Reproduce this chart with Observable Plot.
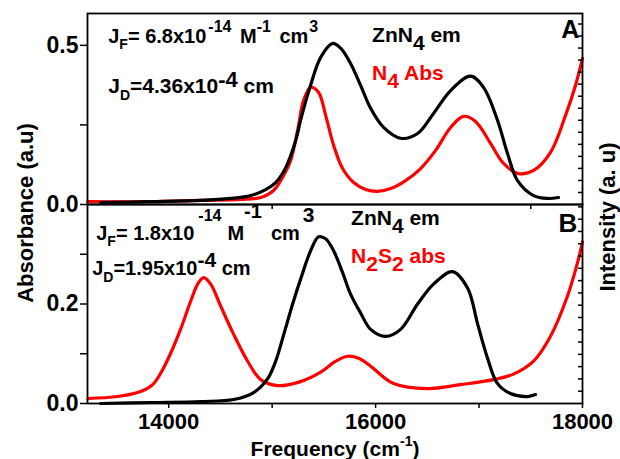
<!DOCTYPE html>
<html><head><meta charset="utf-8">
<script src="https://cdn.jsdelivr.net/npm/d3@7"></script>
<script src="https://cdn.jsdelivr.net/npm/@observablehq/plot@0.6"></script>
<style>
body{margin:0;background:#fff;}
#chart{position:relative;width:620px;height:459px;overflow:hidden;font-family:"Liberation Sans",Arial,sans-serif;}
#chart svg{position:absolute;left:0;overflow:visible;background:transparent;}
</style></head><body><div id="chart"></div>
<script>
// ---------- data ----------
// Panel A: ZnN4 emission (black) and N4 absorption (red)
const emA_freq = [13343,13826,14309,14599,14792,14937,15034,15130,15227,15275,15372,15469,15585,15662,15758,15855,15952,16077,16242,16406,16560,16725,16918,17043,17179,17275,17372,17527,17662,17768];
const emA_val  = [0.006,0.009,0.013,0.019,0.028,0.047,0.069,0.115,0.200,0.265,0.375,0.462,0.506,0.491,0.443,0.374,0.302,0.242,0.208,0.223,0.286,0.358,0.403,0.368,0.264,0.160,0.075,0.028,0.019,0.022];
const absA_freq = [13217,13826,14309,14696,14889,15014,15111,15179,15246,15304,15372,15449,15517,15594,15681,15788,15903,16019,16145,16290,16435,16580,16725,16850,16966,17111,17237,17382,17527,17691,17836,17932,18000];
const absA_val  = [0.009,0.009,0.013,0.016,0.022,0.044,0.091,0.138,0.233,0.327,0.368,0.352,0.280,0.186,0.113,0.069,0.047,0.041,0.050,0.075,0.113,0.170,0.242,0.277,0.261,0.192,0.129,0.097,0.107,0.164,0.280,0.374,0.459];
// Panel B: ZnN4 emission (black) and N2S2 absorption (red)
const emB_freq = [13343,13826,14309,14628,14821,14957,15034,15111,15198,15275,15372,15449,15517,15594,15681,15758,15855,15952,16097,16242,16406,16560,16744,16889,16986,17082,17179,17304,17469,17546];
const emB_val  = [0.000,0.002,0.004,0.008,0.022,0.050,0.085,0.138,0.200,0.250,0.307,0.335,0.331,0.307,0.263,0.220,0.182,0.149,0.135,0.149,0.200,0.240,0.265,0.232,0.160,0.091,0.040,0.020,0.014,0.018];
const absB_freq = [13217,13507,13729,13845,13923,14019,14116,14213,14280,14338,14406,14502,14628,14763,14889,15053,15275,15469,15614,15730,15836,15952,16174,16502,16821,17140,17333,17527,17691,17855,17952,18000];
const absB_val  = [0.010,0.014,0.024,0.038,0.061,0.101,0.150,0.206,0.240,0.253,0.240,0.196,0.139,0.085,0.048,0.036,0.044,0.063,0.085,0.095,0.091,0.075,0.040,0.030,0.038,0.048,0.059,0.085,0.135,0.216,0.283,0.325];

// ---------- axes ----------
const xDomain = [13215, 18000];
const xTickLabels = [14000, 16000, 18000];
const xTickMinor = [15000, 17000];
const xTicksA = [15000, 17500];
const yTicksA = [0, 0.5], yMinorA = [0.25];
const yTicksB = [0, 0.2], yMinorB = [0.1, 0.3];
const intensityTicksA = d3.range(1, 16), intensityStepA = 0.0378;  // right axis (unlabelled)
const intensityTicksB = d3.range(1, 17), intensityStepB = 0.0247;

const FONT = "'Liberation Sans', Arial, sans-serif";
const RED = "#ff0000";
const W = 620, ML = 87, MR = 38;
const rows = (fs, vs) => fs.map((f, i) => ({f, v: vs[i]}));
const styleObj = {fontFamily: FONT, fontSize: "23px", fontWeight: "bold", overflow: "visible", background: "transparent"};
const blank = () => "";

function panel(opts) {
  return Plot.plot({
    width: W, height: opts.height,
    marginLeft: ML, marginRight: MR, marginTop: opts.mt, marginBottom: opts.mb,
    style: styleObj,
    x: {domain: xDomain},
    y: {domain: opts.yDomain},
    marks: [
      Plot.lineY(rows(opts.absF, opts.absV), {x: "f", y: "v", stroke: RED, strokeWidth: 3.2, curve: "catmull-rom"}),
      Plot.lineY(rows(opts.emF, opts.emV), {x: "f", y: "v", stroke: "black", strokeWidth: 3.2, curve: "catmull-rom"}),
      Plot.axisY({ticks: opts.yTicks, tickFormat: d3.format(".1f"), tickSize: 7, tickPadding: 2, strokeWidth: 1.5, label: null, fontSize: 23, fontWeight: "bold"}),
      Plot.axisY({ticks: opts.yMinor, tickFormat: blank, tickSize: 7, strokeWidth: 1.5, label: null}),
      Plot.axisY({anchor: "right", ticks: opts.rTicks, tickFormat: blank, tickSize: -5, strokeWidth: 1.5, label: null}),
      ...opts.xAxes,
      Plot.frame({stroke: "black", strokeWidth: 1.8})
    ]
  });
}

const plotA = panel({
  height: 204, mt: 13, mb: 0, yDomain: [0, 0.6],
  absF: absA_freq, absV: absA_val, emF: emA_freq, emV: emA_val,
  yTicks: yTicksA, yMinor: yMinorA,
  rTicks: intensityTicksA.map(k => k * intensityStepA),
  xAxes: [Plot.axisX({ticks: xTicksA, tickFormat: blank, tickSize: 5, strokeWidth: 1.5, label: null})]
});
const plotB = panel({
  height: 255, mt: 0, mb: 56, yDomain: [0, 0.4],
  absF: absB_freq, absV: absB_val, emF: emB_freq, emV: emB_val,
  yTicks: yTicksB, yMinor: yMinorB,
  rTicks: intensityTicksB.map(k => k * intensityStepB),
  xAxes: [
    Plot.axisX({ticks: xTickLabels, tickFormat: d3.format("d"), tickSize: 5, tickPadding: 5, strokeWidth: 1.5, label: null, fontSize: 22, fontWeight: "bold"}),
    Plot.axisX({ticks: xTickMinor, tickFormat: blank, tickSize: 5, strokeWidth: 1.5, label: null})
  ]
});

const chart = document.getElementById("chart");
plotA.style.top = "0px";
plotB.style.top = "204px";
chart.append(plotA, plotB);

// ---------- rich text helper (sub/superscripts) ----------
function rich(svg, x, y, parts, o = {}) {
  const t = d3.select(svg).append("text")
    .attr("x", x).attr("y", y)
    .attr("fill", o.fill || "black")
    .attr("font-family", FONT).attr("font-weight", "bold")
    .attr("font-size", o.size || 21)
    .attr("text-anchor", o.anchor || "start")
    .attr("transform", o.transform || null)
    .style("white-space", "pre");
  let cur = 0;
  for (const p of parts) {
    const s = p.s || 0;
    t.append("tspan").attr("dy", s - cur).attr("dx", p.dx || 0)
      .attr("font-size", p.z || o.size || 21).text(p.t);
    cur = s;
  }
  return t;
}

// Panel A annotations (data coordinates through the plot's own scales)
{
  const sx = plotA.scale("x"), sy = plotA.scale("y");
  const X = f => sx.apply(f), Y = v => sy.apply(v);
  rich(plotA, X(13420), Y(0.506), [{t: "J"}, {t: "F", z: 14, s: 6}, {t: "= 6.8x10"}, {t: "-14", z: 16, s: -11, dx: 2}, {t: " M", dx: 3}, {t: "-1", z: 16, s: -11}, {t: " cm", dx: 3}, {t: "3", z: 16, s: -11, dx: 1}], {size: 20});
  rich(plotA, X(13420), Y(0.349), [{t: "J"}, {t: "D", z: 14, s: 7}, {t: "=4.36x10"}, {t: "-4", z: 22, s: -6}, {t: " cm"}], {size: 21});
  rich(plotA, X(15971), Y(0.509), [{t: "ZnN"}, {t: "4", s: 8}, {t: " em"}], {size: 21});
  rich(plotA, X(15971), Y(0.390), [{t: "N"}, {t: "4", s: 8}, {t: " Abs"}], {size: 21, fill: RED});
  rich(plotA, X(17975), Y(0.522), [{t: "A"}], {size: 25, anchor: "end"});
}
// Panel B annotations
{
  const sx = plotB.scale("x"), sy = plotB.scale("y");
  const X = f => sx.apply(f), Y = v => sy.apply(v);
  rich(plotB, X(13304), Y(0.327), [{t: "J"}, {t: "F", z: 14, s: 6}, {t: "= 1.8x10"}, {t: "-14", z: 16, s: -19, dx: 4}, {t: "M", s: 0, dx: 6}, {t: "-1", z: 20, s: -22}, {t: "cm", s: 0, dx: 9}, {t: "3", z: 21, s: -18, dx: 3}], {size: 20});
  rich(plotB, X(13265), Y(0.257), [{t: "J"}, {t: "D", z: 14, s: 7}, {t: "=1.95x10"}, {t: "-4", z: 21, s: -8}, {t: " cm"}], {size: 20});
  rich(plotB, X(15768), Y(0.358), [{t: "ZnN"}, {t: "4", s: 8}, {t: " em"}], {size: 21});
  rich(plotB, X(15768), Y(0.281), [{t: "N"}, {t: "2", s: 8}, {t: "S", s: 0}, {t: "2", s: 8}, {t: " abs", s: 0}], {size: 21, fill: RED});
  rich(plotB, X(17955), Y(0.343), [{t: "B"}], {size: 26, anchor: "end"});
}

// Axis titles
rich(plotB, 335, 252, [{t: "Frequency (cm"}, {t: "-1", z: 14, s: -10}, {t: ")", s: 0}], {size: 21, anchor: "middle"});
rich(plotA, 0, 0, [{t: "Absorbance (a.u)"}], {size: 22, anchor: "middle", transform: "translate(33,213) rotate(-90)"});
rich(plotA, 0, 0, [{t: "Intensity (a. u)"}], {size: 22, anchor: "middle", transform: "translate(615,217) rotate(-90)"});
</script></body></html>
